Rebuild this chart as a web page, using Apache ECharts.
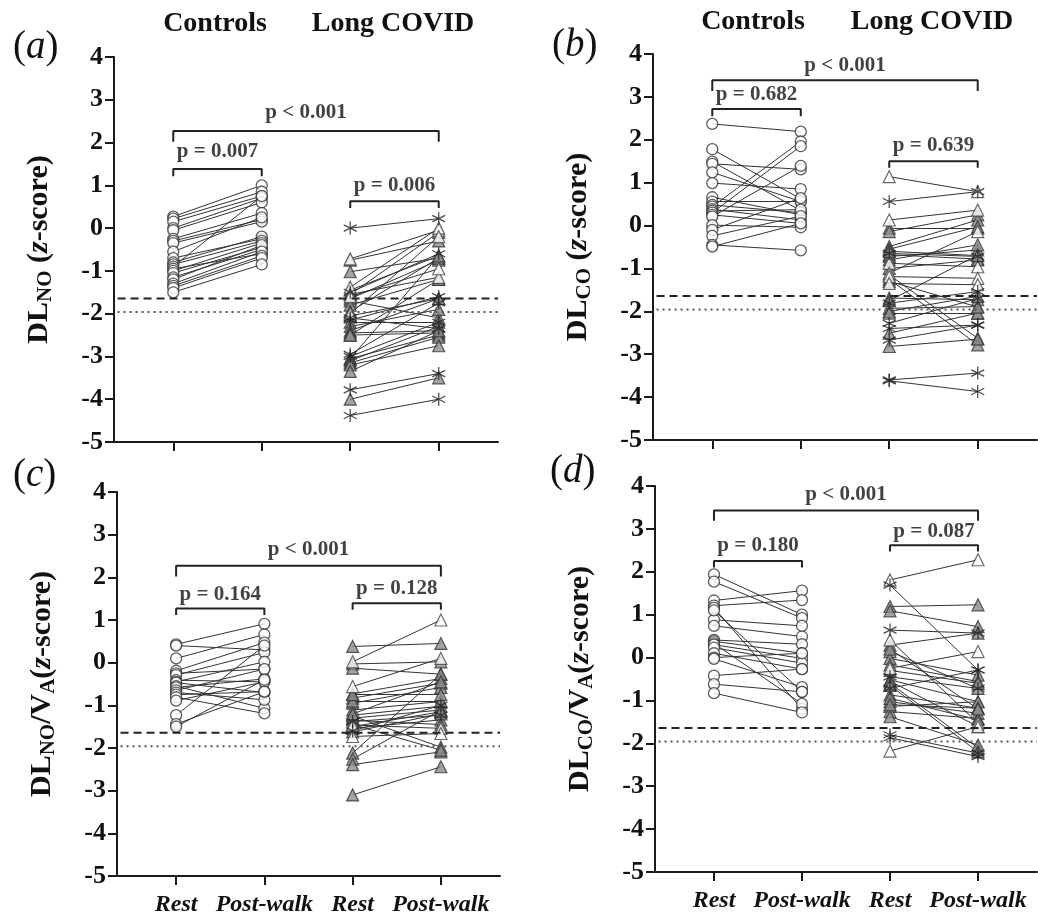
<!DOCTYPE html>
<html><head><meta charset="utf-8">
<script src="https://cdn.jsdelivr.net/npm/echarts@6/dist/echarts.min.js"></script>
<style>html,body{margin:0;padding:0;background:#fff}#c{width:1038px;height:919px}</style>
</head><body><div id="c"></div>
<script>
// ---------- tick labels / categories ----------
const xTickLabels = ['Rest', 'Post-walk', 'Rest', 'Post-walk'];
const groupTitles = ['Controls', 'Long COVID'];
const yMin = -5, yMax = 4;
const refDashed = -1.645, refDotted = -1.96;

// ---------- panel (a) DLNO ----------
const aCtrlRest = [0.27,0.22,0.15,0.0,-0.05,-0.25,-0.3,-0.35,-0.55,-0.7,-0.8,-0.85,-0.9,-0.95,-1.0,-1.05,-1.15,-1.2,-1.3,-1.35,-1.4,-1.5];
const aCtrlPost = [1.0,0.85,0.75,0.7,0.6,0.35,0.2,0.15,0.25,-0.25,-0.2,-0.3,0.75,-0.6,-0.35,-0.45,-0.5,-0.4,-0.55,-0.65,-0.7,-0.85];
const aLcRest = [0.0,-0.72,-0.75,-1.02,-1.38,-1.45,-1.5,-1.55,-1.55,-1.6,-1.65,-1.7,-1.8,-1.95,-2.0,-2.05,-2.1,-2.15,-2.2,-2.3,-2.4,-2.45,-2.5,-2.5,-2.95,-3.0,-3.05,-3.05,-3.1,-3.15,-3.2,-3.35,-3.78,-4.0,-4.38];
const aLcPost = [0.22,-0.05,-0.3,-0.7,0.0,-0.65,-0.6,-1.15,-0.1,-0.95,-0.75,-2.1,-1.2,-0.7,-0.2,-1.65,-2.35,-1.6,-2.2,-1.9,-1.65,-2.4,-2.45,-1.2,-1.75,-2.2,-2.5,-0.65,-2.3,-2.55,-2.75,-2.4,-3.4,-3.5,-4.0];
const aLcMark = ['s','w','t','t','w','t','s','w','t','w','t','t','t','t','w','t','s','s','t','t','t','t','t','t','s','s','t','t','t','t','t','t','s','t','s'];
const aBrackets = [[0,3,2.27,2.02,2.69,'p < 0.001'],[0,1,1.38,1.21,1.78,'p = 0.007'],[2,3,0.63,0.47,1.0,'p = 0.006']];

// ---------- panel (b) DLCO ----------
const bCtrlRest = [2.37,1.78,1.49,1.44,1.24,0.99,0.66,0.56,0.48,0.44,0.38,0.34,0.3,0.25,0.21,0.01,-0.1,-0.24,-0.45,-0.49];
const bCtrlPost = [2.19,0.62,0.35,1.31,0.56,0.85,0.25,0.56,0.3,1.96,0.13,0.37,1.85,0.05,1.39,-0.04,0.64,0.22,-0.58,0.05];
const bLcRest = [1.14,0.56,0.13,-0.06,-0.14,-0.49,-0.55,-0.65,-0.68,-0.72,-0.8,-0.88,-1.0,-1.11,-1.15,-1.19,-1.25,-1.35,-1.69,-1.75,-1.81,-1.93,-2.0,-2.04,-2.28,-2.4,-2.51,-2.67,-2.82,-3.6,-3.62,-0.6,-1.3];
const bLcPost = [0.79,0.79,0.36,-0.06,0.25,0.13,-0.03,-0.72,-0.78,-0.57,-0.45,-0.96,-0.8,-0.14,-2.63,-1.23,-2.78,-1.38,-1.73,-0.69,-1.54,-1.89,-1.65,-2.04,-1.7,-2.32,-2.04,-2.32,-2.65,-3.44,-3.87,-0.7,-1.9];
const bLcMark = ['w','s','w','t','t','t','t','s','t','t','t','w','t','w','t','w','t','w','t','t','s','t','t','t','s','s','t','s','t','s','s','t','t'];
const bBrackets = [[0,3,3.39,3.14,3.72,'p < 0.001'],[0,1,2.72,2.55,3.06,'p = 0.682'],[2,3,1.5,1.35,1.86,'p = 0.639']];

// ---------- panel (c) DLNO/VA ----------
const cCtrlRest = [0.43,0.4,0.1,-0.19,-0.25,-0.29,-0.41,-0.45,-0.47,-0.55,-0.58,-0.65,-0.7,-0.75,-0.81,-0.89,-1.23,-1.44,-1.5];
const cCtrlPost = [0.91,0.3,0.66,0.47,-0.15,0.24,-0.45,0.02,-0.7,-1.07,-0.38,-0.15,-0.87,-0.68,-1.19,-0.45,0.4,-0.68,-0.4];
const cLcRest = [0.38,0.02,-0.03,-0.13,-0.56,-0.73,-0.83,-0.95,-1.11,-1.23,-1.3,-1.38,-1.46,-1.54,-1.62,-1.73,-2.12,-2.26,-2.39,-3.1,-1.25,-1.45,-0.9,-1.35,-1.6,-1.5,-1.2,-0.75];
const cLcPost = [0.45,1.0,0.02,-0.27,0.1,-0.37,-0.48,-0.58,-0.91,-1.02,-1.11,-1.23,-1.54,-1.34,-1.2,-1.66,-0.27,-1.11,-2.09,-2.44,-1.98,-2.05,-0.9,-1.45,-1.0,-1.15,-0.45,-0.75];
const cLcMark = ['t','w','t','t','w','t','t','t','t','t','t','s','w','t','t','w','t','t','t','t','t','t','t','t','s','t','t','t'];
const cBrackets = [[0,3,2.27,2.02,2.64,'p < 0.001'],[0,1,1.27,1.12,1.59,'p = 0.164'],[2,3,1.39,1.24,1.74,'p = 0.128']];

// ---------- panel (d) DLCO/VA ----------
const dCtrlRest = [1.94,1.77,1.33,1.21,1.16,0.88,0.74,0.41,0.38,0.33,0.3,0.23,0.1,0.0,-0.03,-0.42,-0.62,-0.83,1.1];
const dCtrlPost = [1.0,0.92,1.56,1.34,-1.2,0.74,0.49,0.31,0.1,-1.08,-0.02,-0.13,-0.27,0.1,-0.69,-0.27,-0.8,-1.28,-0.8];
const dLcRest = [1.81,1.69,1.19,1.09,0.64,0.41,0.29,0.14,-0.02,-0.17,-0.25,-0.52,-0.6,-0.72,-0.87,-1.03,-1.14,-1.26,-1.38,-1.8,-1.87,-2.18,-0.45,-0.55,-0.65,-0.95,-1.1,-0.3,0.2];
const dLcPost = [2.28,-0.29,1.23,0.72,0.57,-1.53,0.57,-0.72,-0.41,-0.56,0.14,-1.03,-2.11,-0.29,-1.18,-1.3,-1.03,-1.42,-2.04,-2.23,-2.31,-1.61,-0.72,-1.61,-2.2,-1.45,-1.18,-0.6,-1.2];
const dLcMark = ['w','s','t','t','s','w','t','t','t','t','w','t','t','s','t','t','t','t','t','s','s','w','s','t','t','t','t','t','t'];
const dBrackets = [[0,3,3.43,3.19,3.79,'p < 0.001'],[0,1,2.25,2.1,2.62,'p = 0.180'],[2,3,2.62,2.47,2.94,'p = 0.087']];

// ---------- layout / style ----------
const SERIF = "'Liberation Serif','Times New Roman',serif";
const X_MIN = -0.67, X_MAX = 3.67;
const INK = '#1a1a1a';
const grids = [
  {left:114, top:57, width:384, height:385},
  {left:653, top:54, width:384, height:386},
  {left:117, top:492, width:383, height:384},
  {left:655, top:486, width:382, height:386}
];
const yNames = [
  '{m|DL}{s|NO}{m| (}{i|z}{m|-score)}',
  '{m|DL}{s|CO}{m| (}{i|z}{m|-score)}',
  '{m|DL}{s|NO}{m|/V}{s|A}{m|(}{i|z}{m|-score)}',
  '{m|DL}{s|CO}{m|/V}{s|A}{m|(}{i|z}{m|-score)}'
];
const panels = [
  [aCtrlRest,aCtrlPost,aLcRest,aLcPost,aLcMark,aBrackets],
  [bCtrlRest,bCtrlPost,bLcRest,bLcPost,bLcMark,bBrackets],
  [cCtrlRest,cCtrlPost,cLcRest,cLcPost,cLcMark,cBrackets],
  [dCtrlRest,dCtrlPost,dLcRest,dLcPost,dLcMark,dBrackets]
];
const STAR = 'path://M5,0L5,10M0.67,2.5L9.33,7.5M0.67,7.5L9.33,2.5';
const markStyle = {
  o: {symbol:'circle', symbolSize:11, itemStyle:{color:'#fff', borderColor:'#333', borderWidth:1.3}},
  t: {symbol:'triangle', symbolSize:12, itemStyle:{color:'#8c8c8c', borderColor:'#333', borderWidth:1.2}},
  w: {symbol:'triangle', symbolSize:12, itemStyle:{color:'#fff', borderColor:'#444', borderWidth:1.2}},
  s: {symbol:STAR, symbolSize:13, itemStyle:{color:'transparent', borderColor:'#222', borderWidth:1.3}}
};

const xAxis = [], yAxis = [], series = [];
panels.forEach((p, i) => {
  const [cr, cp, lr, lp, lm, br] = p;
  xAxis.push({
    gridIndex:i, type:'value', min:X_MIN, max:X_MAX,
    axisLine:{show:true, onZero:false, lineStyle:{color:INK, width:2}},
    axisTick:{show:true, customValues:[0,1,2,3], length:9, lineStyle:{color:INK, width:2}},
    axisLabel:{show:i>=2, customValues:[0,1,2,3], formatter:v=>xTickLabels[Math.round(v)],
      fontFamily:SERIF, fontWeight:'bold', fontStyle:'italic', fontSize:24, color:'#111', margin:17},
    splitLine:{show:false}
  });
  yAxis.push({
    gridIndex:i, type:'value', min:yMin, max:yMax, interval:1,
    axisLine:{show:true, onZero:false, lineStyle:{color:INK, width:2}},
    axisTick:{show:true, length:9, lineStyle:{color:INK, width:2}},
    axisLabel:{fontFamily:SERIF, fontWeight:'bold', fontSize:26, color:'#111', margin:11},
    splitLine:{show:false},
    name:yNames[i], nameLocation:'middle', nameGap:58,
    nameTextStyle:{color:'#111', fontFamily:SERIF, fontWeight:'bold', fontSize:30,
      rich:{
        m:{fontFamily:SERIF, fontWeight:'bold', fontSize:30, lineHeight:34, color:'#111'},
        i:{fontFamily:SERIF, fontWeight:'bold', fontStyle:'italic', fontSize:30, lineHeight:34, color:'#111'},
        s:{fontFamily:SERIF, fontWeight:'bold', fontSize:21, lineHeight:12, verticalAlign:'bottom', color:'#111'}
      }}
  });
  // connecting lines
  const segs = [];
  cr.forEach((v,k)=>segs.push({coords:[[0,v],[1,cp[k]]]}));
  lr.forEach((v,k)=>segs.push({coords:[[2,v],[3,lp[k]]]}));
  series.push({type:'lines', coordinateSystem:'cartesian2d', xAxisIndex:i, yAxisIndex:i, silent:true, z:2,
    lineStyle:{color:'#333', width:1, opacity:1, curveness:0}, data:segs});
  // markers
  const groups = {o:[], t:[], w:[], s:[]};
  cr.forEach((v,k)=>{groups.o.push([0,v]); groups.o.push([1,cp[k]]);});
  lr.forEach((v,k)=>{groups[lm[k]].push([2,v]); groups[lm[k]].push([3,lp[k]]);});
  ['t','w','s','o'].forEach(key=>{
    series.push(Object.assign({type:'scatter', xAxisIndex:i, yAxisIndex:i, silent:true, z:3, data:groups[key]}, markStyle[key]));
  });
  // reference lines
  series.push({type:'line', xAxisIndex:i, yAxisIndex:i, silent:true, z:4, showSymbol:false, symbol:'none',
    lineStyle:{color:'#222', width:2, type:[8,5]}, data:[[X_MIN+0.04,refDashed],[X_MAX,refDashed]]});
  series.push({type:'line', xAxisIndex:i, yAxisIndex:i, silent:true, z:4, showSymbol:false, symbol:'none',
    lineStyle:{color:'#555', width:2, type:[2,4]}, data:[[X_MIN+0.04,refDotted],[X_MAX,refDotted]]});
  // brackets and p-values
  br.forEach(b=>{
    const [x1,x2,yb,ye,yt,txt] = b;
    series.push({type:'line', xAxisIndex:i, yAxisIndex:i, silent:true, z:4, showSymbol:false, symbol:'none',
      lineStyle:{color:'#222', width:2}, data:[[x1,ye],[x1,yb],[x2,yb],[x2,ye]]});
    series.push({type:'scatter', xAxisIndex:i, yAxisIndex:i, silent:true, z:5, symbolSize:0,
      data:[{value:[(x1+x2)/2, yt], name:txt}],
      label:{show:true, position:'inside', formatter:'{b}', fontFamily:SERIF, fontWeight:'bold', fontSize:21, color:'#111'}});
  });
});

const graphic = [];
const panelLetters = [['a',13,28],['b',552,26],['c',13,456],['d',550,452]];
panelLetters.forEach(([l,x,y])=>{
  graphic.push({type:'text', left:x, top:y, silent:true, style:{
    text:'{n|(}{i|'+l+'}{n|)}',
    rich:{n:{fontFamily:SERIF, fontSize:39, fill:'#111'}, i:{fontFamily:SERIF, fontSize:39, fontStyle:'italic', fill:'#111'}}
  }});
});
[[215,24],[393,24],[753,22],[932,22]].forEach(([x,y],k)=>{
  graphic.push({type:'text', x:x, y:y, silent:true, style:{text:groupTitles[k%2], align:'center', verticalAlign:'middle',
    fontFamily:SERIF, fontWeight:'bold', fontSize:28, fill:'#111'}});
});

const chart = echarts.init(document.getElementById('c'), null, {renderer:'canvas'});
chart.setOption({animation:false, backgroundColor:'#fff', grid:grids, xAxis, yAxis, series, graphic});
</script></body></html>
